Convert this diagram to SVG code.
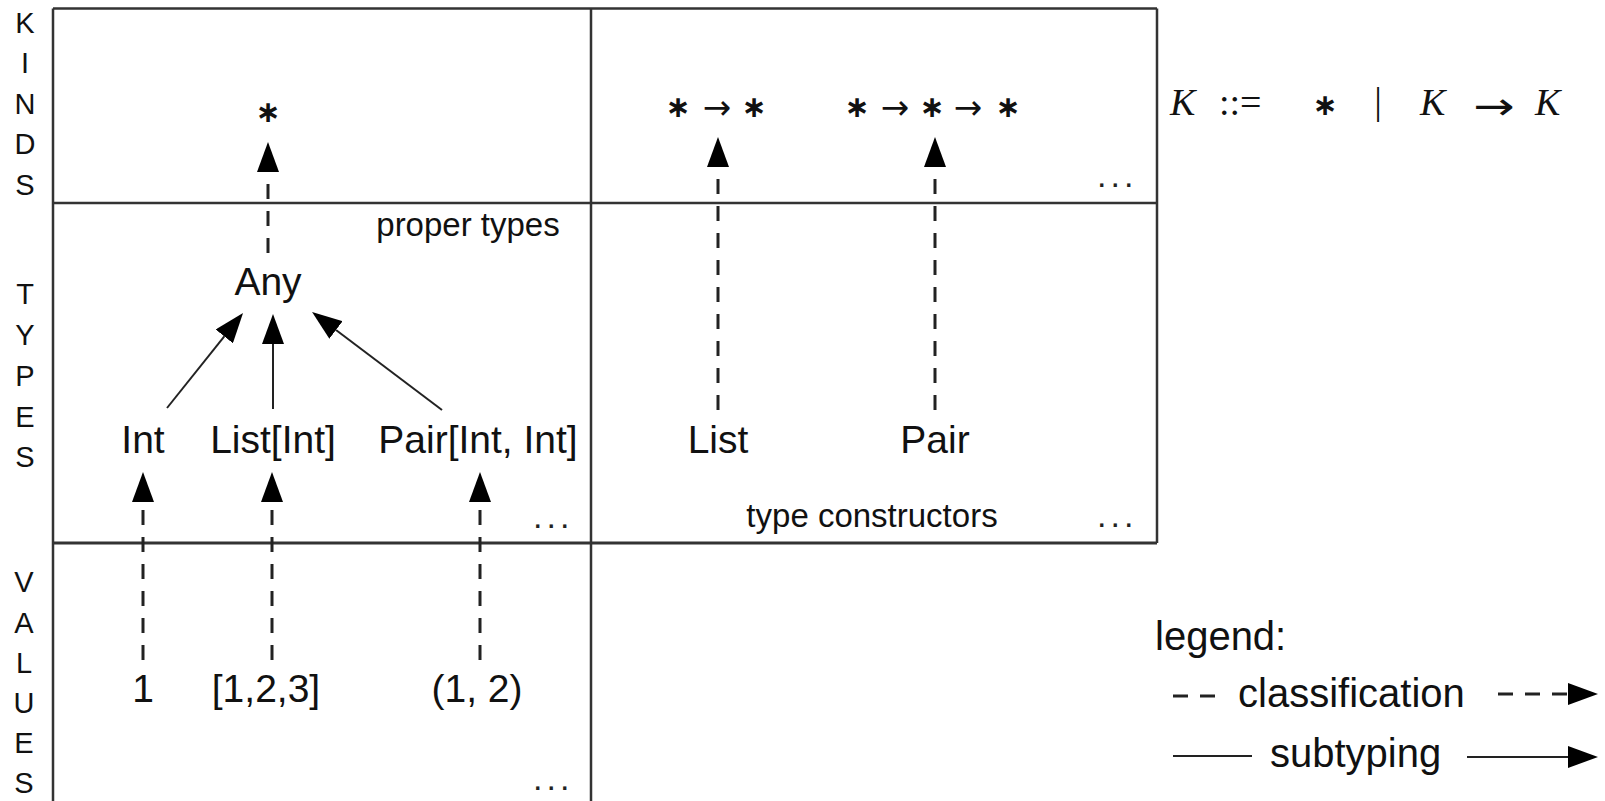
<svg xmlns="http://www.w3.org/2000/svg" width="1605" height="801" viewBox="0 0 1605 801">
  <style>
    .frame { stroke: #333; stroke-width: 2.5; fill: none; }
    .side { font-family: "Liberation Sans", Arial, sans-serif; font-size: 29px; fill: #111; text-anchor: middle; }
    .lbl { font-family: "Liberation Sans", Arial, sans-serif; font-size: 39px; fill: #111; text-anchor: middle; }
    .note { font-family: "Liberation Sans", Arial, sans-serif; font-size: 33px; fill: #111; text-anchor: middle; }
    .dots { font-family: "Liberation Sans", Arial, sans-serif; font-size: 34px; fill: #222; letter-spacing: 4px; }
    .sym { font-family: "DejaVu Sans", sans-serif; fill: #111; text-anchor: middle; }
    .star { font-size: 30px; font-weight: bold; }
    .arr { font-size: 34px; }
    .mi { font-family: "Liberation Serif", serif; font-style: italic; font-size: 38px; fill: #111; }
    .mo { font-family: "Liberation Serif", serif; font-size: 38px; fill: #111; }
    .leg { font-family: "Liberation Sans", Arial, sans-serif; font-size: 40px; fill: #111; }
    .cls { stroke: #222; stroke-width: 3; stroke-dasharray: 15 12; fill: none; }
    .sub { stroke: #222; stroke-width: 2; fill: none; }
    .tip { marker-end: url(#head); }
  </style>
  <defs>
    <marker id="head" viewBox="0 0 30 22" refX="0" refY="11" markerWidth="30" markerHeight="22" markerUnits="userSpaceOnUse" orient="auto">
      <path d="M0,0 L30,11 L0,22 Z" fill="#000"/>
    </marker>
  </defs>

  <!-- grid of levels -->
  <g id="frame" class="frame">
    <line x1="53" y1="8.5" x2="1157" y2="8.5"/>
    <line x1="1157" y1="8.5" x2="1157" y2="543"/>
    <line x1="53" y1="8.5" x2="53" y2="801"/>
    <line x1="591" y1="8.5" x2="591" y2="801"/>
    <line x1="53" y1="203" x2="1157" y2="203"/>
    <line x1="53" y1="543" x2="1157" y2="543" stroke-width="3"/>
  </g>

  <!-- level names, one letter per row -->
  <g id="level-names" class="side">
    <text x="25" y="33">K</text>
    <text x="25" y="73">I</text>
    <text x="25" y="114">N</text>
    <text x="25" y="154">D</text>
    <text x="25" y="195">S</text>
    <text x="25" y="304">T</text>
    <text x="25" y="345">Y</text>
    <text x="25" y="386">P</text>
    <text x="25" y="427">E</text>
    <text x="25" y="467">S</text>
    <text x="24" y="592">V</text>
    <text x="24" y="633">A</text>
    <text x="24" y="673">L</text>
    <text x="24" y="713">U</text>
    <text x="24" y="753">E</text>
    <text x="24" y="793">S</text>
  </g>

  <!-- kinds -->
  <g id="kind-star">
    <text class="sym star" x="268" y="122">∗</text>
  </g>
  <g id="kind-star-to-star">
    <text class="sym star" x="678" y="117">∗</text>
    <text class="sym arr" x="717" y="119">→</text>
    <text class="sym star" x="754" y="117">∗</text>
  </g>
  <g id="kind-star-to-star-to-star">
    <text class="sym star" x="857" y="117">∗</text>
    <text class="sym arr" x="895" y="119">→</text>
    <text class="sym star" x="932" y="117">∗</text>
    <text class="sym arr" x="968" y="119">→</text>
    <text class="sym star" x="1008" y="117">∗</text>
  </g>

  <!-- proper types -->
  <g id="type-any"><text class="lbl" x="268" y="295">Any</text></g>
  <g id="type-int"><text class="lbl" x="143" y="453">Int</text></g>
  <g id="type-list-int"><text class="lbl" x="273" y="453">List[Int]</text></g>
  <g id="type-pair-int-int"><text class="lbl" x="478" y="453">Pair[Int, Int]</text></g>

  <!-- type constructors -->
  <g id="type-list"><text class="lbl" x="718" y="453">List</text></g>
  <g id="type-pair"><text class="lbl" x="935" y="453">Pair</text></g>

  <!-- values -->
  <g id="value-1"><text class="lbl" x="143" y="702">1</text></g>
  <g id="value-list"><text class="lbl" x="266" y="702">[1,2,3]</text></g>
  <g id="value-pair"><text class="lbl" x="477" y="702">(1, 2)</text></g>

  <!-- region captions and ellipses -->
  <g id="captions">
    <text class="note" x="468" y="236">proper types</text>
    <text class="note" x="872" y="527">type constructors</text>
    <text class="dots" x="1097" y="187">...</text>
    <text class="dots" x="533" y="528">...</text>
    <text class="dots" x="1097" y="527">...</text>
    <text class="dots" x="533" y="790">...</text>
  </g>

  <!-- kind grammar -->
  <g id="kind-grammar">
    <text class="mi" x="1170" y="115">K</text>
    <text class="mo" x="1219" y="115" font-size="40">::=</text>
    <text class="sym star" x="1325" y="115">∗</text>
    <text class="mo" x="1378" y="114" text-anchor="middle" fill="#8c8ab0">|</text>
    <text class="mi" x="1420" y="115">K</text>
    <text class="sym" font-size="38" transform="translate(1494,119) scale(1.3,1)">→</text>
    <text class="mi" x="1535" y="115">K</text>
  </g>

  <!-- connectors -->
  <g id="connectors">
    <!-- classification: value -> type, type -> kind -->
    <line class="cls tip" x1="268" y1="253" x2="268" y2="172"/>
    <line class="cls tip" x1="718" y1="410" x2="718" y2="167"/>
    <line class="cls tip" x1="935" y1="410" x2="935" y2="167"/>
    <line class="cls tip" x1="143" y1="660" x2="143" y2="502"/>
    <line class="cls tip" x1="272" y1="660" x2="272" y2="502"/>
    <line class="cls tip" x1="480" y1="660" x2="480" y2="502"/>
    <!-- subtyping: proper types -> Any -->
    <line class="sub tip" x1="167" y1="408" x2="224.3" y2="336.4"/>
    <line class="sub tip" x1="273" y1="409" x2="273" y2="344"/>
    <line class="sub tip" x1="442" y1="410" x2="336" y2="330"/>
  </g>

  <!-- legend -->
  <g id="legend">
    <text class="leg" x="1155" y="650">legend:</text>
    <line class="cls" x1="1173" y1="696" x2="1217" y2="696"/>
    <text class="leg" x="1238" y="707">classification</text>
    <line class="cls tip" x1="1498" y1="694" x2="1568" y2="694"/>
    <line class="sub" x1="1173" y1="756" x2="1252" y2="756"/>
    <text class="leg" x="1270" y="767">subtyping</text>
    <line class="sub tip" x1="1467" y1="757" x2="1568" y2="757"/>
  </g>
</svg>
